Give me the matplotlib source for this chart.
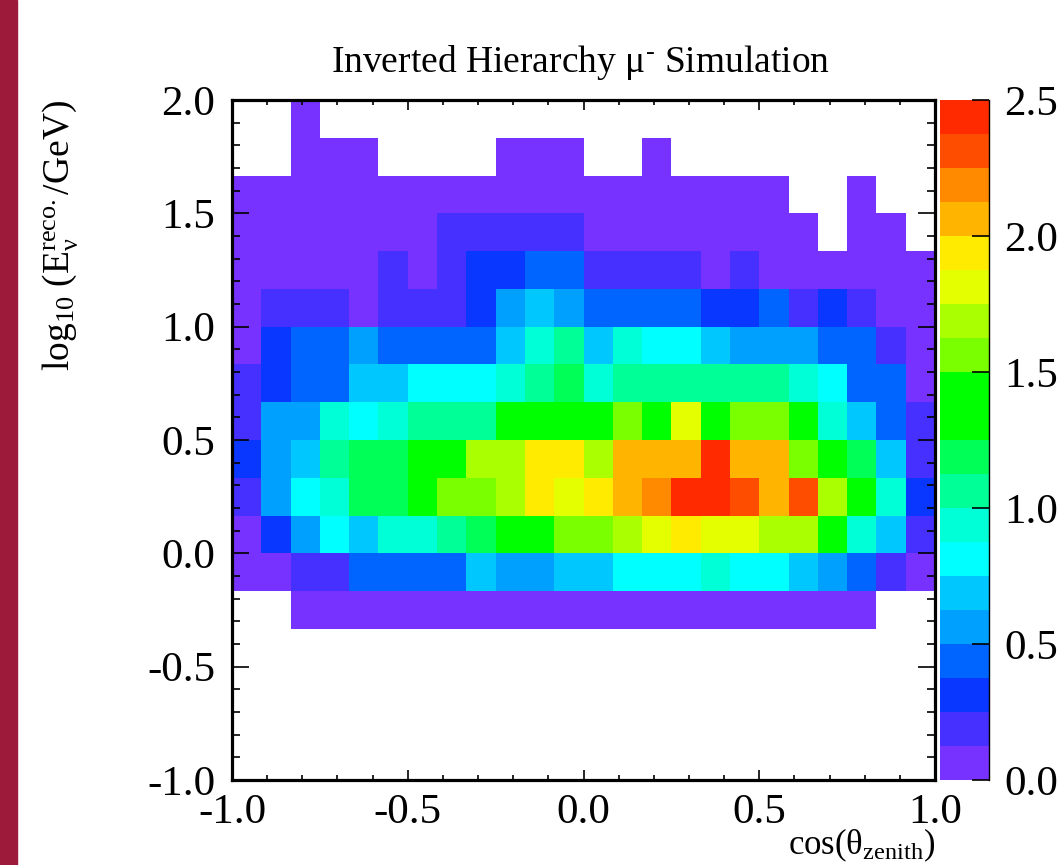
import matplotlib
matplotlib.use("Agg")
import matplotlib.pyplot as plt
import numpy as np
from matplotlib.colors import ListedColormap, BoundaryNorm
from matplotlib.patches import Rectangle
from matplotlib.ticker import MultipleLocator, FormatStrFormatter

plt.rcParams['font.family'] = ['Liberation Serif', 'DejaVu Serif']
plt.rcParams['mathtext.fontset'] = 'custom'
plt.rcParams['mathtext.rm'] = 'Liberation Serif'
plt.rcParams['mathtext.it'] = 'Liberation Serif:italic'
plt.rcParams['mathtext.bf'] = 'Liberation Serif:bold'
plt.rcParams['axes.unicode_minus'] = False

""" Data """
# 24 bins in cos(zenith), 18 bins in log10(E)
x_edges = np.linspace(-1.0, 1.0, 25)
y_edges = np.linspace(-1.0, 2.0, 19)

# bin contents, top row first (1.83..2.0 down to -1.0..-0.83), 0 = empty bin
counts = [
    [0, 0, .06, 0, 0, 0, 0, 0, 0, 0, 0, 0, 0, 0, 0, 0, 0, 0, 0, 0, 0, 0, 0, 0],
    [0, 0, .06, .06, .06, 0, 0, 0, 0, .06, .06, .06, 0, 0, .06, 0, 0, 0, 0, 0, 0, 0, 0, 0],
    [.06, .06, .06, .06, .06, .06, .06, .06, .06, .06, .06, .06, .06, .06, .06, .06, .06, .06, .06, 0, 0, .06, 0, 0],
    [.06, .06, .06, .06, .06, .06, .06, .19, .19, .19, .19, .19, .06, .06, .06, .06, .06, .06, .06, .06, 0, .06, .06, 0],
    [.06, .06, .06, .06, .06, .19, .06, .19, .31, .31, .44, .44, .19, .19, .19, .19, .06, .19, .06, .06, .06, .06, .06, .06],
    [.06, .19, .19, .19, .06, .19, .19, .19, .31, .56, .69, .56, .44, .44, .44, .44, .31, .31, .44, .19, .31, .19, .06, .06],
    [.06, .31, .44, .44, .56, .44, .44, .44, .44, .69, .94, 1.06, .69, .94, .81, .81, .69, .56, .56, .56, .44, .44, .19, .06],
    [.19, .31, .44, .44, .69, .69, .81, .81, .81, .94, 1.06, 1.19, .94, 1.06, 1.06, 1.06, 1.06, 1.06, 1.06, .94, .81, .44, .44, .06],
    [.19, .56, .56, .94, .81, .94, 1.06, 1.06, 1.06, 1.35, 1.35, 1.35, 1.35, 1.56, 1.35, 1.81, 1.35, 1.56, 1.56, 1.35, .94, .69, .44, .19],
    [.31, .56, .69, 1.06, 1.19, 1.19, 1.35, 1.35, 1.69, 1.69, 1.94, 1.94, 1.69, 2.06, 2.06, 2.06, 2.44, 2.06, 2.06, 1.56, 1.35, 1.19, .69, .19],
    [.19, .56, .81, .94, 1.19, 1.19, 1.35, 1.56, 1.56, 1.69, 1.94, 1.81, 1.94, 2.06, 2.19, 2.44, 2.44, 2.31, 2.06, 2.31, 1.69, 1.35, .94, .31],
    [.06, .31, .56, .81, .69, .94, .94, 1.06, 1.19, 1.35, 1.35, 1.56, 1.56, 1.69, 1.81, 1.94, 1.81, 1.81, 1.69, 1.69, 1.35, .94, .69, .19],
    [.06, .06, .19, .19, .44, .44, .44, .44, .69, .56, .56, .69, .69, .81, .81, .81, .94, .81, .81, .69, .56, .44, .19, .06],
    [0, 0, .06, .06, .06, .06, .06, .06, .06, .06, .06, .06, .06, .06, .06, .06, .06, .06, .06, .06, .06, .06, 0, 0],
    [0] * 24,
    [0] * 24,
    [0] * 24,
    [0] * 24,
]

z_levels = np.linspace(0.0, 2.5, 21)
z_ticks = [0.0, 0.5, 1.0, 1.5, 2.0, 2.5]

# ROOT style rainbow palette, 20 contours
palette = ['#7832FF', '#4530FF', '#0A37FF', '#0064FF', '#00A0FF',
           '#00C8FF', '#00FFFF', '#00FFD7', '#00FF97', '#00FF57',
           '#00FF00', '#00FF00', '#7AFF00', '#AAFF00', '#E3FF00',
           '#FFEB00', '#FFB400', '#FF8A00', '#FF4D00', '#FF2A00']

""" Plot """
fig = plt.figure(figsize=(10.62, 8.65), dpi=100)
fig.patches.append(Rectangle((0, 0), 17 / 1062, 1, transform=fig.transFigure,
                             color='#9E1A3A', zorder=0))

ax = fig.add_axes([232 / 1062, 1 - 780 / 865, 703 / 1062, 680 / 865])
cmap = ListedColormap(palette)
norm = BoundaryNorm(z_levels, cmap.N)
z = np.ma.masked_equal(np.flipud(np.array(counts)), 0)
mesh = ax.pcolormesh(x_edges, y_edges, z, cmap=cmap, norm=norm)

ax.set_xlim(-1, 1)
ax.set_ylim(-1, 2)
ax.xaxis.set_major_locator(MultipleLocator(0.5))
ax.xaxis.set_minor_locator(MultipleLocator(0.1))
ax.yaxis.set_major_locator(MultipleLocator(0.5))
ax.yaxis.set_minor_locator(MultipleLocator(0.1))
ax.xaxis.set_major_formatter(FormatStrFormatter('%.1f'))
ax.yaxis.set_major_formatter(FormatStrFormatter('%.1f'))
ax.tick_params(which='both', direction='in', top=True, right=True, labelsize=31)
ax.tick_params(axis='x', which='major', length=7.5, width=1.2, pad=10)
ax.tick_params(axis='x', which='minor', length=3.8, width=1.2)
ax.tick_params(axis='y', which='major', length=12.5, width=1.2, pad=12)
ax.tick_params(axis='y', which='minor', length=5.5, width=1.2)
for sp in ax.spines.values():
    sp.set_linewidth(2.3)

cax = fig.add_axes([940 / 1062, 1 - 780 / 865, 49 / 1062, 680 / 865])
cbar = fig.colorbar(mesh, cax=cax, ticks=z_ticks)
cbar.outline.set_visible(False)
cax.spines['right'].set_visible(True)
cax.spines['right'].set_linewidth(1.0)
cax.yaxis.set_major_formatter(FormatStrFormatter('%.1f'))
cax.tick_params(direction='in', length=12, width=1.2, labelsize=31, pad=11)
cax.minorticks_off()

fig.text(580 / 1062, 1 - 72 / 865, 'Inverted Hierarchy \u03bc$^{\\text{-}}$ Simulation',
         ha='center', va='baseline', fontsize=27)
fig.text(60 / 1062, 1 - 100 / 865,
         r'log$_{10}$ (E$_{\mathrm{\nu}}^{\mathrm{reco.}}$/GeV)',
         rotation=90, ha='center', va='top', fontsize=27)
fig.text(935 / 1062, 11 / 865, r'cos($\mathrm{\theta}_{\mathrm{zenith}}$)',
         ha='right', va='baseline', fontsize=25)

fig.savefig('out.png', dpi=100)
